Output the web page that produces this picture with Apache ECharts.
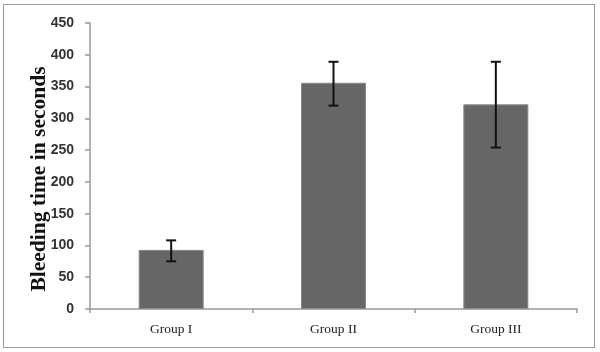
<!DOCTYPE html>
<html lang="en">
  <head>
    <meta charset="UTF-8" />
    <title>Bleeding time</title>
    <script src="https://cdn.jsdelivr.net/npm/echarts@6.0.0/dist/echarts.min.js"></script>
    <style>
      html, body { margin: 0; padding: 0; background: #fff; }
      #frame {
        position: absolute; left: 3px; top: 4px; width: 590px; height: 342px;
        border: 1.5px solid #999;
      }
      #main { position: absolute; left: 0; top: 0; width: 600px; height: 352px; }
    </style>
  </head>
  <body>
    <div id="frame"></div>
    <div id="main"></div>
    <script type="text/javascript">
      // Chart data
      const groups = ["Group I", "Group II", "Group III"];
      const meanTime = [93, 356, 322];
      const errLow = [75, 320, 254];
      const errHigh = [108, 389, 389];

      let myChart = echarts.init(document.getElementById("main"));

      const errorData = groups.map((g, i) => [i, errLow[i], errHigh[i]]);

      let options = {
        animation: false,
        grid: { left: 90, right: 23, top: 23, bottom: 43 },
        xAxis: {
          type: "category",
          data: groups,
          axisLine: { lineStyle: { color: "#999", width: 1.5 } },
          axisTick: { show: true, length: 4, lineStyle: { color: "#999", width: 1.5 } },
          axisLabel: {
            color: "#222",
            fontFamily: "Liberation Serif",
            fontSize: 13.5,
            margin: 13
          }
        },
        yAxis: {
          type: "value",
          min: 0,
          max: 450,
          interval: 50,
          name: "Bleeding time in seconds",
          nameLocation: "middle",
          nameGap: 40,
          nameMoveOverlap: false,
          nameTextStyle: {
            color: "#111",
            fontFamily: "Liberation Serif",
            fontWeight: "bold",
            fontSize: 21.5,
            padding: [0, 26, 0, 0]
          },
          axisLine: { show: true, lineStyle: { color: "#999", width: 1.5 } },
          axisTick: { show: true, length: 5, lineStyle: { color: "#999", width: 1.5 } },
          splitLine: { show: false },
          axisLabel: {
            color: "#333",
            fontFamily: "Liberation Sans",
            fontWeight: "bold",
            fontSize: 14,
            margin: 16
          }
        },
        series: [
          {
            name: "Bleeding time",
            type: "bar",
            data: meanTime,
            barWidth: 65,
            itemStyle: { color: "#666", borderColor: "#888", borderWidth: 1 }
          },
          {
            type: "custom",
            data: errorData,
            z: 10,
            renderItem: function (params, api) {
              const x = api.value(0);
              const lo = api.coord([x, api.value(1)]);
              const hi = api.coord([x, api.value(2)]);
              const cap = 5;
              const style = { stroke: "#111", lineWidth: 2 };
              return {
                type: "group",
                children: [
                  { type: "line", shape: { x1: lo[0], y1: lo[1], x2: hi[0], y2: hi[1] }, style: style },
                  { type: "line", shape: { x1: lo[0] - cap, y1: lo[1], x2: lo[0] + cap, y2: lo[1] }, style: style },
                  { type: "line", shape: { x1: hi[0] - cap, y1: hi[1], x2: hi[0] + cap, y2: hi[1] }, style: style }
                ]
              };
            }
          }
        ]
      };

      myChart.setOption(options);
    </script>
  </body>
</html>
